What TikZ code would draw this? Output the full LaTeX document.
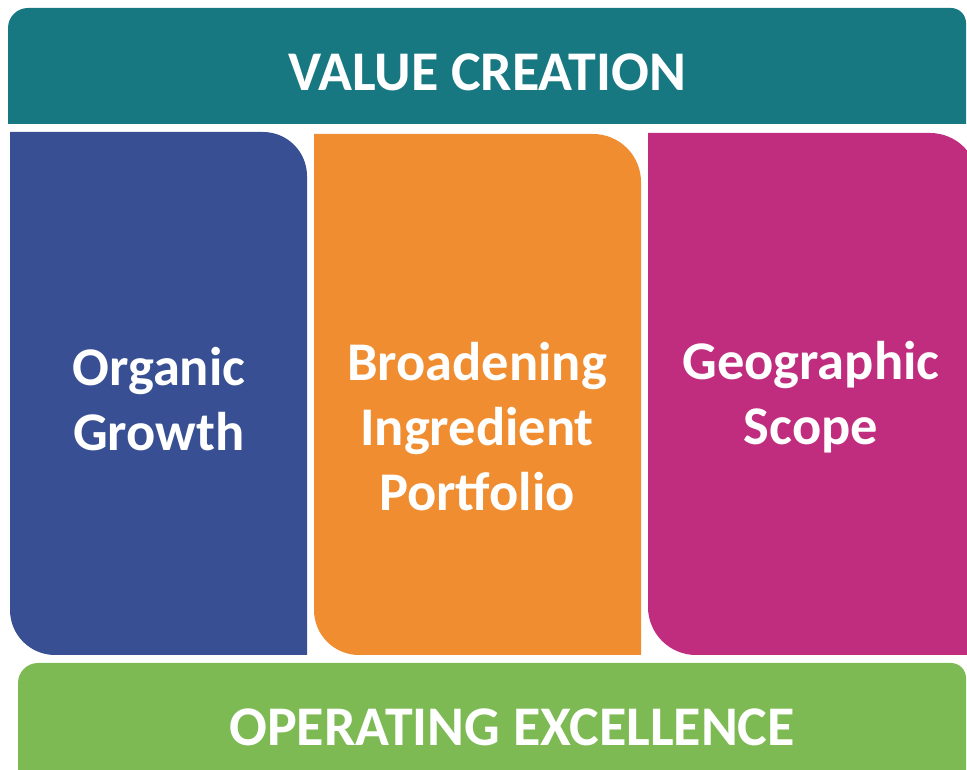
\documentclass[tikz,border=0pt]{standalone}
\usepackage{fontspec}
\setmainfont{Carlito}
\usetikzlibrary{positioning}
\definecolor{vTeal}{RGB}{24,120,130}
\definecolor{vBlue}{RGB}{56,79,147}
\definecolor{vOrange}{RGB}{239,141,48}
\definecolor{vMagenta}{RGB}{192,44,126}
\definecolor{vGreen}{RGB}{125,186,84}
\begin{document}
\begin{tikzpicture}[
			x=1pt,y=1pt,
			bandtext/.style={
				text=white,
				font=\fontsize{56}{64}\selectfont\bfseries,
				inner sep=0pt,
				anchor=base
			},
			pillartext/.style={
				text=white,
				align=center,
				font=\fontsize{54.5}{65}\selectfont\bfseries,
				inner sep=0pt
			}
			]
			\useasboundingbox (0,0) rectangle (967,769);
			\begin{scope}
				\clip (0,0) rectangle (967,769);
				% top band
				\fill[vTeal] (8,645) -- (8,741) arc[start angle=180,end angle=90,radius=20]
					-- (951,761) arc[start angle=90,end angle=0,radius=15] -- (966,645) -- cycle;
				% pillars
				\fill[vBlue] (10,637) -- (263,637) arc[start angle=90,end angle=0,radius=44]
					-- (307,114) -- (55,114) arc[start angle=270,end angle=180,radius=45] -- cycle;
				\fill[vOrange] (314,635) -- (593,635) arc[start angle=90,end angle=0,radius=48]
					-- (641,114) -- (359,114) arc[start angle=270,end angle=180,radius=45] -- cycle;
				\fill[vMagenta] (648,636) -- (930,636) arc[start angle=90,end angle=0,radius=48]
					-- (978,114) -- (696,114) arc[start angle=270,end angle=180,radius=48] -- cycle;
				% bottom band
				\fill[vGreen] (18,-10) -- (18,86) arc[start angle=180,end angle=90,radius=20]
					-- (951,106) arc[start angle=90,end angle=0,radius=15] -- (966,-10) -- cycle;
			\end{scope}
			\node[bandtext] (value) at (487,678) {VALUE CREATION};
			\node[pillartext] (organic) at (159,370) {Organic\\Growth};
			\node[pillartext] (broadening) at (477,342) {Broadening\\Ingredient\\Portfolio};
			\node[pillartext] (geographic) at (811,372) {Geographic\\Scope};
			\node[bandtext] (operating) at (512,24) {OPERATING EXCELLENCE};
		\end{tikzpicture}
\end{document}
